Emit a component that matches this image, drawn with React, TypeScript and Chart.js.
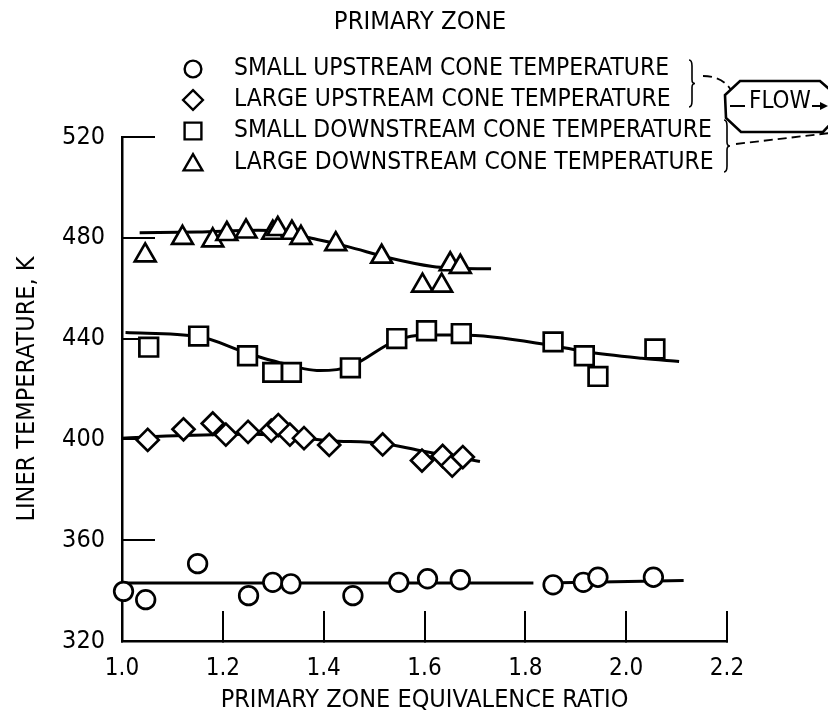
import React, { useEffect, useRef } from 'react';
import { Chart, registerables } from 'chart.js';

Chart.register(...registerables);

const NARROW = '"Liberation Sans Narrow", "DejaVu Sans Condensed", "Liberation Sans", sans-serif';
const COND = '"DejaVu Sans Condensed", "Liberation Sans Narrow", sans-serif';

// ---- text ----
const legendTitle = 'PRIMARY ZONE';
const seriesLabels = [
  'SMALL UPSTREAM CONE TEMPERATURE',
  'LARGE UPSTREAM CONE TEMPERATURE',
  'SMALL DOWNSTREAM CONE TEMPERATURE',
  'LARGE DOWNSTREAM CONE TEMPERATURE',
];
const xTitle = 'PRIMARY ZONE EQUIVALENCE RATIO';
const yTitle = 'LINER TEMPERATURE, K';
const flowLabel = 'FLOW';

// ---- axes ----
const xMin = 1.0;
const xMax = 2.2;
const xStep = 0.2;
const yMin = 320;
const yMax = 520;
const yStep = 40;

// ---- small upstream cone (circles) ----
const circleX = [1.003, 1.047, 1.15, 1.251, 1.299, 1.335, 1.458, 1.549, 1.606, 1.671, 1.855, 1.915, 1.944, 2.054];
const circleT = [339.7, 336.4, 350.7, 338, 343.3, 342.7, 338, 343.3, 344.7, 344.3, 342.3, 343.3, 345.3, 345.3];
const circleFitX = [1.005, 1.816, 1.83, 1.84, 2.114];
const circleFitT = [343, 343, null, 343, 344];

// ---- large upstream cone (diamonds) ----
const diamondX = [1.051, 1.122, 1.18, 1.206, 1.25, 1.296, 1.31, 1.333, 1.361, 1.411, 1.517, 1.595, 1.636, 1.655, 1.676];
const diamondT = [399.8, 404, 406.3, 401.9, 403, 403.5, 405.7, 401.9, 400.5, 397.8, 398, 391.6, 393.4, 389.6, 393];
const diamondFitX = [1.0, 1.122, 1.26, 1.411, 1.517, 1.59, 1.71];
const diamondFitT = [400.5, 401.5, 402, 399.5, 398.4, 395.6, 391.2];

// ---- small downstream cone (squares) ----
const squareX = [1.053, 1.152, 1.249, 1.299, 1.336, 1.453, 1.545, 1.604, 1.673, 1.855, 1.917, 1.944, 2.057];
const squareT = [436.6, 441, 433.2, 426.6, 426.6, 428.4, 440, 443.1, 442, 438.7, 433.2, 425, 435.9];
const squareFitX = [1.007, 1.152, 1.249, 1.297, 1.393, 1.453, 1.545, 1.604, 1.673, 1.855, 1.917, 2.031, 2.105];
const squareFitT = [442.4, 440.8, 434.2, 431.3, 427.3, 429, 439.4, 441.4, 441.4, 437.2, 434.9, 432.2, 430.9];

// ---- large downstream cone (triangles) ----
const triangleX = [1.046, 1.12, 1.18, 1.208, 1.246, 1.299, 1.309, 1.337, 1.355, 1.424, 1.515, 1.596, 1.634, 1.651, 1.671];
const triangleT = [473, 480, 479, 481.5, 482.5, 482, 483.5, 482, 480, 477.5, 472.5, 461, 461, 469.5, 468.5];
const triangleFitX = [1.035, 1.15, 1.27, 1.31, 1.372, 1.446, 1.531, 1.616, 1.65, 1.732];
const triangleFitT = [482, 482.3, 483, 482.8, 480, 476.6, 472, 468.6, 468, 467.7];

const pts = (xs: number[], ys: (number | null)[]) => xs.map((x, i) => ({ x, y: ys[i] }));

const markerDataset = (label: string, style: string, radius: number, xs: number[], ys: number[]) => ({
  label,
  data: pts(xs, ys),
  showLine: false,
  pointStyle: style,
  pointRadius: radius,
  pointBorderWidth: 2.7,
  pointBorderColor: '#000',
  pointBackgroundColor: '#fff',
  borderColor: '#000',
  backgroundColor: '#fff',
  clip: false as const,
  order: 0,
});

const fitDataset = (xs: number[], ys: (number | null)[]) => ({
  label: '',
  data: pts(xs, ys),
  showLine: true,
  pointRadius: 0,
  borderColor: '#000',
  borderWidth: 3,
  tension: 0.4,
  cubicInterpolationMode: 'monotone' as const,
  spanGaps: false,
  clip: false as const,
  order: 1,
});

function drawMarker(ctx: CanvasRenderingContext2D, style: string, x: number, y: number, r: number) {
  ctx.beginPath();
  if (style === 'circle') {
    ctx.arc(x, y, r, 0, Math.PI * 2);
  } else if (style === 'rect') {
    const s = r * Math.SQRT1_2;
    ctx.rect(x - s, y - s, 2 * s, 2 * s);
  } else if (style === 'rectRot') {
    ctx.moveTo(x, y - r);
    ctx.lineTo(x + r, y);
    ctx.lineTo(x, y + r);
    ctx.lineTo(x - r, y);
    ctx.closePath();
  } else if (style === 'triangle') {
    for (let k = 0; k < 3; k++) {
      const a = -Math.PI / 2 + (k * 2 * Math.PI) / 3;
      const px = x + Math.cos(a) * r;
      const py = y + Math.sin(a) * r;
      if (k === 0) ctx.moveTo(px, py);
      else ctx.lineTo(px, py);
    }
    ctx.closePath();
  }
  ctx.fill();
  ctx.stroke();
}

function drawBrace(ctx: CanvasRenderingContext2D, x: number, top: number, bottom: number) {
  const mid = (top + bottom) / 2;
  ctx.beginPath();
  ctx.moveTo(x - 3, top);
  ctx.quadraticCurveTo(x, top, x, top + 6);
  ctx.lineTo(x, mid - 4);
  ctx.quadraticCurveTo(x, mid, x + 3, mid);
  ctx.quadraticCurveTo(x, mid, x, mid + 4);
  ctx.lineTo(x, bottom - 6);
  ctx.quadraticCurveTo(x, bottom, x - 3, bottom);
  ctx.stroke();
}

const annotationPlugin = {
  id: 'figureAnnotations',
  afterDraw(chart: any) {
    const ctx: CanvasRenderingContext2D = chart.ctx;
    ctx.save();
    ctx.fillStyle = '#000';
    ctx.strokeStyle = '#000';
    ctx.textBaseline = 'middle';

    // title above the legend
    ctx.font = `25.4px ${NARROW}`;
    ctx.textAlign = 'center';
    ctx.fillText(legendTitle, 420, 22);

    // legend
    const rowsY = [69, 100, 131, 163];
    const items = chart.data.datasets.filter((d: any) => d.label);
    ctx.textAlign = 'left';
    ctx.font = `24.4px ${NARROW}`;
    items.forEach((d: any, i: number) => {
      const y = rowsY[i];
      ctx.save();
      ctx.lineWidth = 2.4;
      ctx.fillStyle = '#fff';
      drawMarker(ctx, d.pointStyle, 193, d.pointStyle === 'triangle' ? y + 2 : y, d.pointRadius * 0.9);
      ctx.restore();
      ctx.fillText(d.label, 234, y);
    });

    // braces
    ctx.lineWidth = 1.6;
    drawBrace(ctx, 692, 60, 107);
    drawBrace(ctx, 727, 120, 172);

    // dashed leaders
    ctx.save();
    ctx.setLineDash([9, 5]);
    ctx.lineWidth = 1.8;
    ctx.beginPath();
    ctx.moveTo(703, 76);
    ctx.quadraticCurveTo(722, 76, 731, 90);
    ctx.stroke();
    ctx.beginPath();
    ctx.moveTo(736, 144);
    ctx.lineTo(830, 133);
    ctx.stroke();
    ctx.restore();

    // flow box (octagon)
    ctx.lineWidth = 2.6;
    ctx.beginPath();
    ctx.moveTo(740, 81);
    ctx.lineTo(820, 81);
    ctx.lineTo(836, 95);
    ctx.lineTo(836, 118);
    ctx.lineTo(823, 132);
    ctx.lineTo(741, 132);
    ctx.lineTo(726, 118);
    ctx.lineTo(725, 95);
    ctx.closePath();
    ctx.stroke();

    ctx.font = `24px ${NARROW}`;
    ctx.textAlign = 'left';
    ctx.fillText(flowLabel, 749, 102);
    ctx.lineWidth = 2.2;
    ctx.beginPath();
    ctx.moveTo(730, 106);
    ctx.lineTo(745, 106);
    ctx.moveTo(812, 106);
    ctx.lineTo(821, 106);
    ctx.stroke();
    ctx.beginPath();
    ctx.moveTo(828, 106);
    ctx.lineTo(820, 102);
    ctx.lineTo(820, 110);
    ctx.closePath();
    ctx.fill();

    ctx.restore();
  },
};

export default function App() {
  const ref = useRef<HTMLCanvasElement>(null);

  useEffect(() => {
    const canvas = ref.current;
    if (!canvas) return;
    const chart = new Chart(canvas, {
      type: 'scatter',
      data: {
        datasets: [
          markerDataset(seriesLabels[0], 'circle', 9.3, circleX, circleT),
          markerDataset(seriesLabels[1], 'rectRot', 11, diamondX, diamondT),
          markerDataset(seriesLabels[2], 'rect', 13.2, squareX, squareT),
          markerDataset(seriesLabels[3], 'triangle', 12, triangleX, triangleT),
          fitDataset(circleFitX, circleFitT),
          fitDataset(diamondFitX, diamondFitT),
          fitDataset(squareFitX, squareFitT),
          fitDataset(triangleFitX, triangleFitT),
        ] as any,
      },
      options: {
        responsive: false,
        animation: false,
        devicePixelRatio: 1,
        events: [],
        layout: { padding: { top: 137, right: 101, left: 0, bottom: 0 } },
        plugins: {
          legend: { display: false },
          title: { display: false },
          tooltip: { enabled: false },
        },
        scales: {
          x: {
            type: 'linear',
            min: xMin,
            max: xMax,
            afterFit: (s: any) => {
              s.height = 77;
            },
            ticks: {
              stepSize: xStep,
              autoSkip: false,
              maxRotation: 0,
              padding: 43,
              color: '#000',
              font: { family: COND, size: 24 },
              callback: (v: any) => Number(v).toFixed(1),
            },
            grid: {
              display: true,
              drawOnChartArea: false,
              drawTicks: true,
              tickLength: -30,
              lineWidth: 2,
              color: '#000',
            },
            border: { display: true, color: '#000', width: 2.5 },
            title: {
              display: true,
              text: xTitle,
              color: '#000',
              font: { family: NARROW, size: 25 },
              padding: { top: 0, bottom: 3 },
            },
          },
          y: {
            type: 'linear',
            min: yMin,
            max: yMax,
            afterFit: (s: any) => {
              s.width = 122;
            },
            ticks: {
              stepSize: yStep,
              autoSkip: false,
              padding: 50,
              color: '#000',
              font: { family: NARROW, size: 25 },
            },
            grid: {
              display: true,
              drawOnChartArea: false,
              drawTicks: true,
              tickLength: -33,
              lineWidth: 2,
              color: '#000',
            },
            border: { display: true, color: '#000', width: 2.5 },
            title: {
              display: true,
              text: yTitle,
              color: '#000',
              font: { family: NARROW, size: 25 },
              padding: { top: 12, bottom: 0 },
            },
          },
        },
      },
      plugins: [annotationPlugin],
    } as any);
    return () => chart.destroy();
  }, []);

  return (
    <div style={{ position: 'fixed', left: 0, top: 0, width: 828, height: 718, background: '#fff', overflow: 'hidden' }}>
      <canvas ref={ref} width={828} height={718} style={{ display: 'block', width: 828, height: 718 }} />
    </div>
  );
}
